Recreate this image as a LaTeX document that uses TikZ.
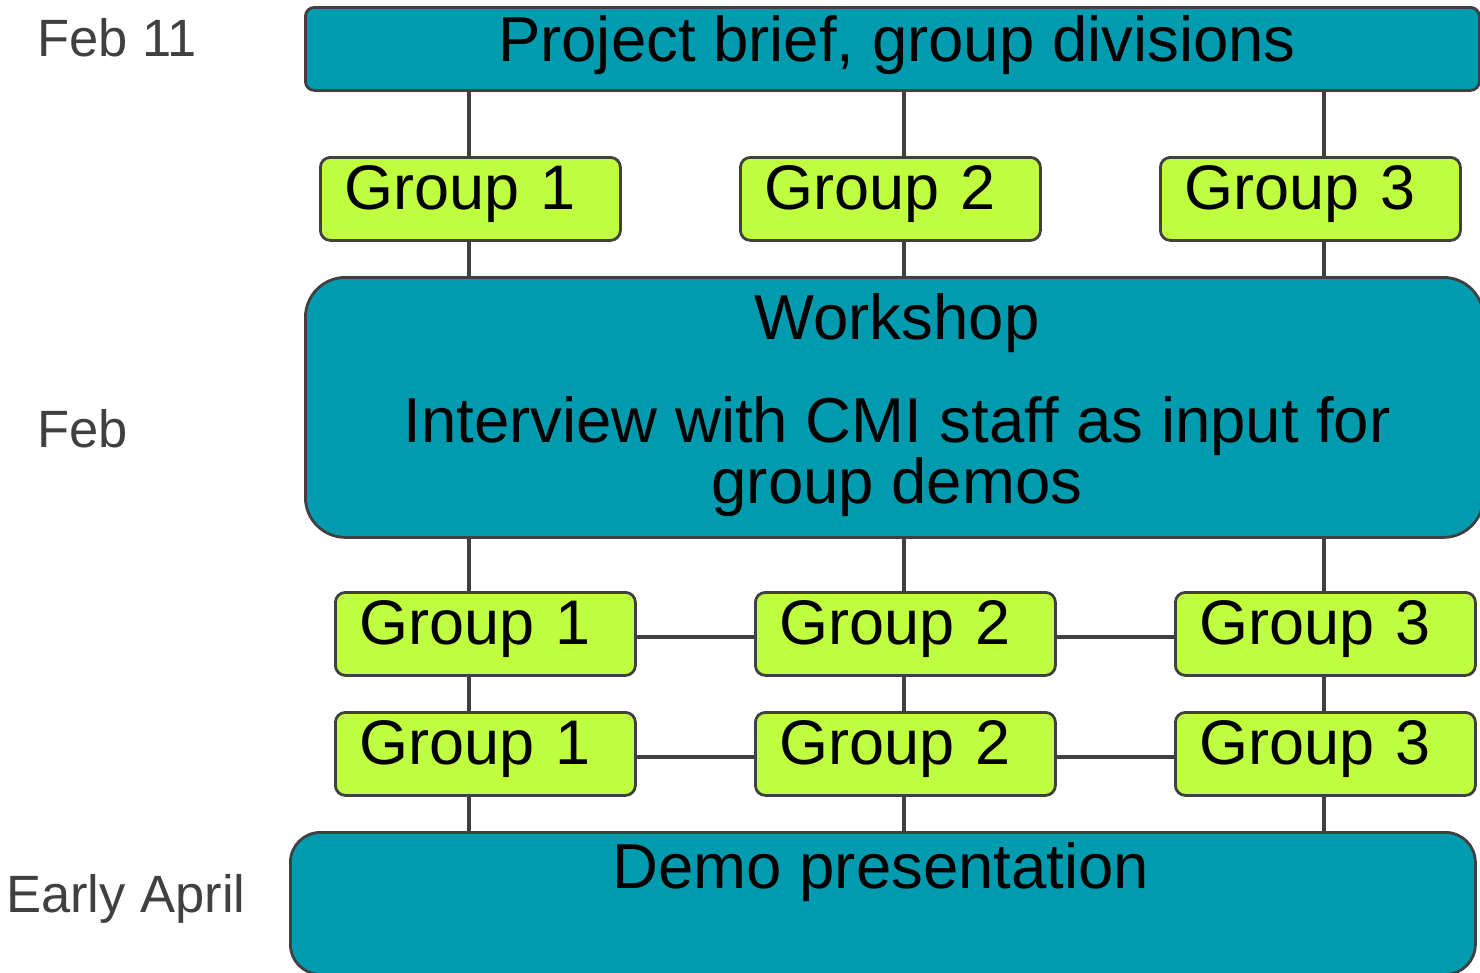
\documentclass[tikz,border=0pt]{standalone}
\usepackage{fontspec}
\setmainfont{Liberation Sans}
\definecolor{teal}{HTML}{009BAE}
\definecolor{lime}{HTML}{C0FF40}
\definecolor{edge}{HTML}{404040}
\begin{document}
\begin{tikzpicture}[x=1pt,y=-1pt,
  bigbox/.style={draw=edge, line width=2.8pt, fill=teal, rectangle, inner sep=0pt, anchor=north west},
  grp/.style={draw=edge, line width=2.8pt, fill=lime, rectangle, rounded corners=10pt,
    anchor=north west, inner xsep=24pt, inner ysep=0pt, text width=252pt, align=left,
    text height=52pt, text depth=31pt, font=\fontsize{63}{70}\selectfont},
  bigtxt/.style={inner sep=0pt, font=\fontsize{63.5}{53.5}\selectfont, align=center},
  datetxt/.style={inner sep=0pt, anchor=base west, text=edge, font=\fontsize{52.5}{55}\selectfont},
  conn/.style={draw=edge, line width=4pt}]
\useasboundingbox (0,0) rectangle (1480,972);
\clip (0,0) rectangle (1480,972);

\coordinate (c1) at (469,0);
\coordinate (c2) at (904,0);
\coordinate (c3) at (1324,0);

% big boxes
\node[bigbox, rounded corners=9pt, minimum width=1174pt, minimum height=83pt] (top) at (304,6) {};
\node[bigbox, rounded corners=40pt, minimum width=1178pt, minimum height=260pt] (ws) at (304,276) {};
\node[bigbox, rounded corners=30pt, minimum width=1185pt, minimum height=142pt] (demo) at (289,831) {};

% groups
\node[grp] (g11) at (319,156) {Group 1};
\node[grp] (g12) at (739,156) {Group 2};
\node[grp] (g13) at (1159,156) {Group 3};
\node[grp] (g21) at (334,591) {Group 1};
\node[grp] (g22) at (754,591) {Group 2};
\node[grp] (g23) at (1174,591) {Group 3};
\node[grp] (g31) at (334,711) {Group 1};
\node[grp] (g32) at (754,711) {Group 2};
\node[grp] (g33) at (1174,711) {Group 3};

% connectors
\foreach \c/\a/\b/\d in {c1/g11/g21/g31, c2/g12/g22/g32, c3/g13/g23/g33}{
  \draw[conn] (top.south -| \c) -- (\a.north -| \c);
  \draw[conn] (\a.south -| \c) -- (ws.north -| \c);
  \draw[conn] (ws.south -| \c) -- (\b.north -| \c);
  \draw[conn] (\b.south -| \c) -- (\d.north -| \c);
  \draw[conn] (\d.south -| \c) -- (demo.north -| \c);
}
\coordinate (h2) at (0,637);
\coordinate (h3) at (0,757);
\draw[conn] (g21.east |- h2) -- (g22.west |- h2);
\draw[conn] (g22.east |- h2) -- (g23.west |- h2);
\draw[conn] (g31.east |- h3) -- (g32.west |- h3);
\draw[conn] (g32.east |- h3) -- (g33.west |- h3);

% texts in big boxes
\node[bigtxt, anchor=base] (toptxt) at (897,61) {Project brief, group divisions};
\node[bigtxt, anchor=north] (wstxt) at (897,293) {Workshop\\[43.5pt]Interview with CMI staff as input for\\group demos};
\node[bigtxt, anchor=base] (demotxt) at (881,888) {Demo presentation};

% dates
\node[datetxt] (d1) at (37,56) {Feb 11};
\node[datetxt] (d2) at (37,447) {Feb};
\node[datetxt] (d3) at (6,912) {Early April};
\end{tikzpicture}
\end{document}
